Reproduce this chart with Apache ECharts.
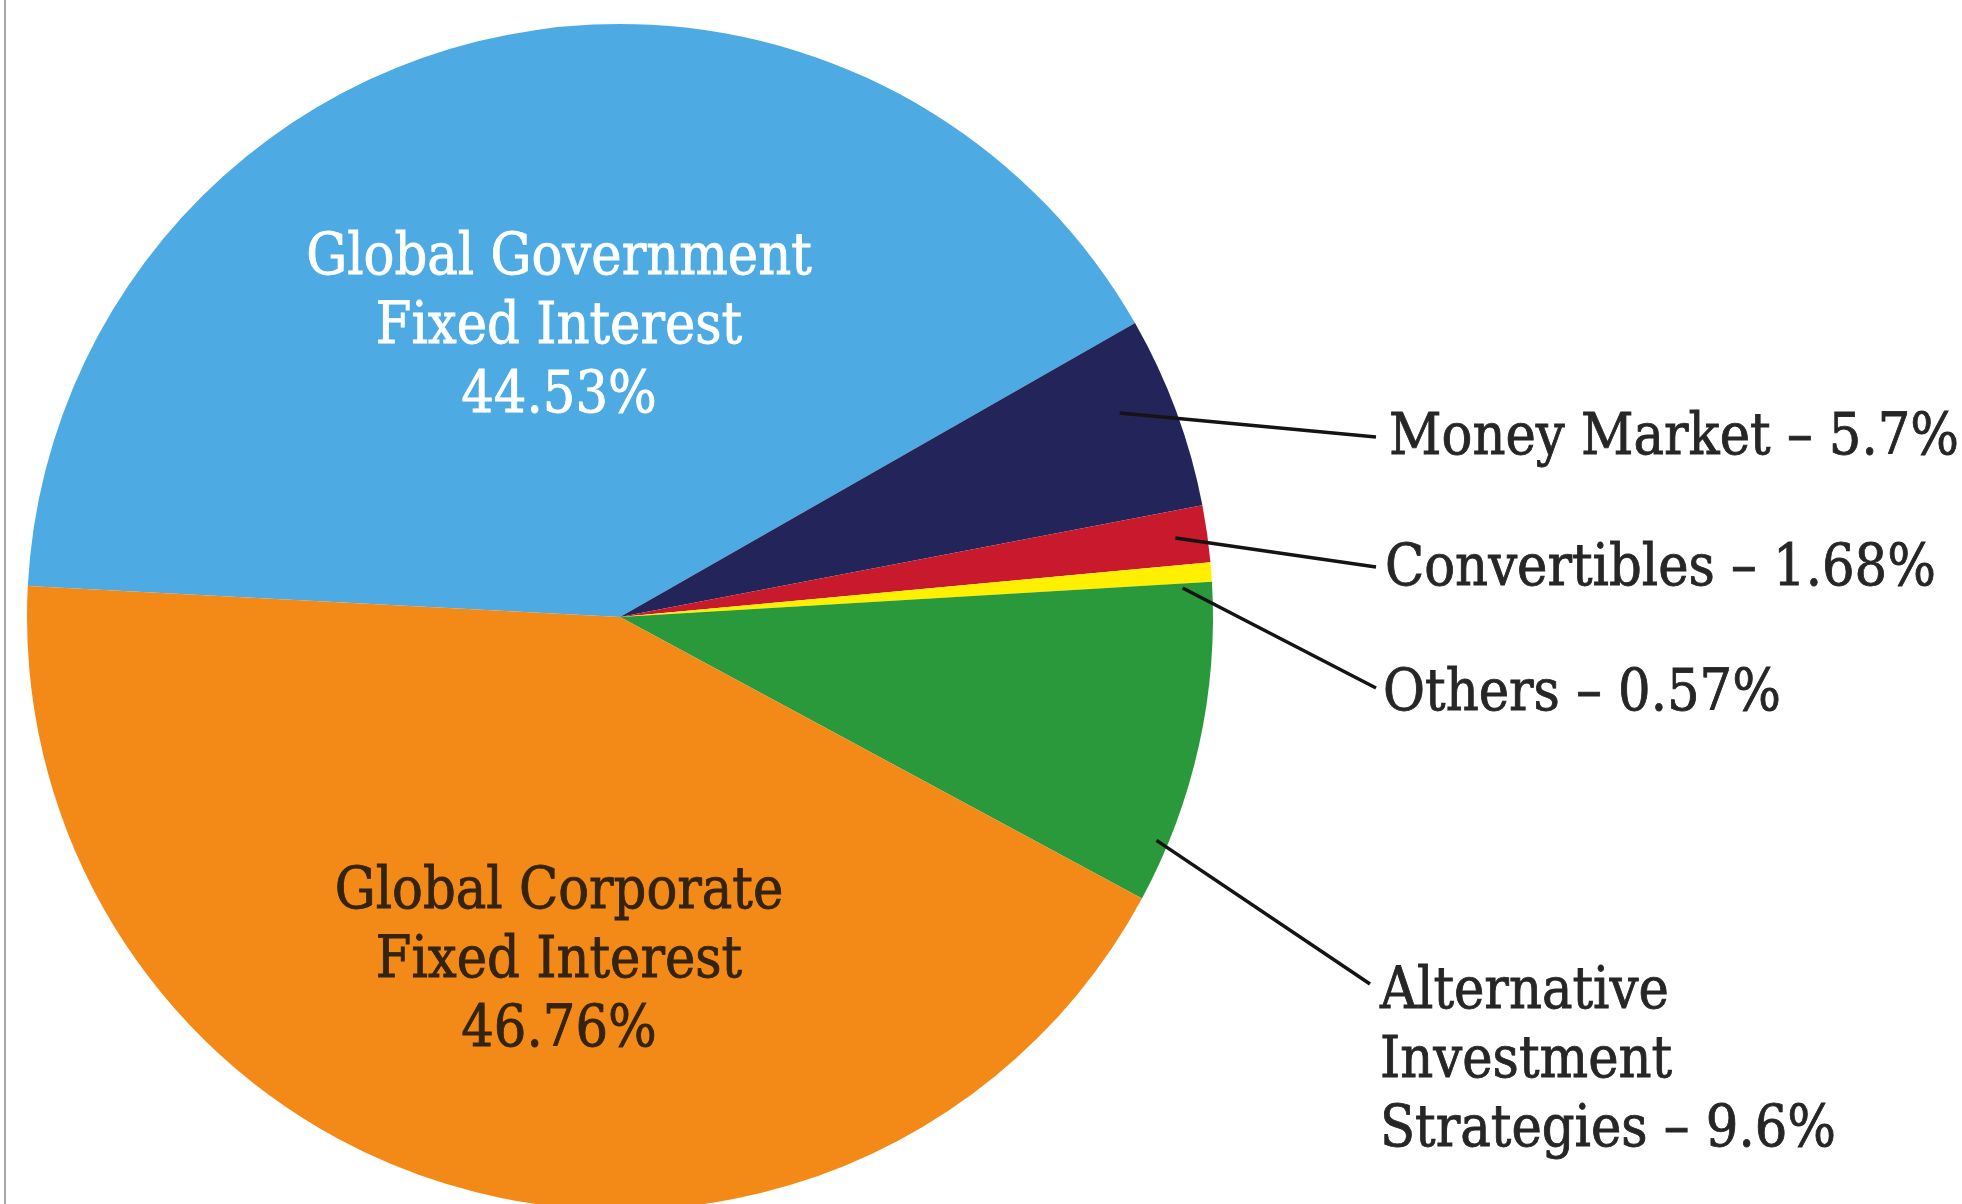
<!DOCTYPE html>
<html>
<head>
<meta charset="utf-8">
<title>Fund allocation</title>
<script src="https://cdn.jsdelivr.net/npm/echarts@6/dist/echarts.min.js"></script>
<style>
  html, body { margin: 0; padding: 0; background: #ffffff; }
  #chart { width: 1962px; height: 1204px; }
</style>
</head>
<body>
<div id="chart"></div>
<script>
// Asset classes, listed clockwise from the left edge of the pie
const categories = [
  'Global Government\nFixed Interest',
  'Money Market',
  'Convertibles',
  'Others',
  'Alternative\nInvestment\nStrategies',
  'Global Corporate\nFixed Interest'
];
const shares = [44.53, 5.7, 1.68, 0.57, 9.6, 46.76];
const sliceColors = ['#4eaae3', '#232459', '#c8192d', '#fff000', '#2a993c', '#f38916'];

// Pie geometry (px)
const CX = 620, CY = 617, R = 593;
const START_ANGLE = 177;
const FONT = '"DejaVu Serif Condensed", "DejaVu Serif", serif';

// Where each label sits: inside labels give their centre; outside labels give
// the left edge of the text plus the point on the slice where the leader starts
// (angle in degrees, counter-clockwise from 3 o'clock, and fraction of radius).
const labelPlacement = [
  { inside: true, x: 559, y: 328 },
  { x: 1389, y: 439, lineEnd: [1376, 437], angle: 22.2, frac: 0.91 },
  { x: 1385, y: 570, lineEnd: [1376, 567], angle: 8.1, frac: 0.946 },
  { x: 1383, y: 695, lineEnd: [1376, 688], angle: 2.95, frac: 0.95 },
  { x: 1380, y: 1062, lineEnd: [1370, 984], angle: -22.6, frac: 0.98 },
  { inside: true, x: 559, y: 962 }
];

function fmt(v) { return v + '%'; }

// Coloured slices, no text
const sliceData = categories.map((name, i) => ({
  name: name,
  value: shares[i],
  itemStyle: { color: sliceColors[i] }
}));

// Same slices again, see-through, carrying the labels and leader lines so
// the leaders can be drawn on top of the coloured wedges
const labelData = categories.map((name, i) => {
  const p = labelPlacement[i];
  const item = {
    name: name,
    value: shares[i],
    itemStyle: { color: 'rgba(0,0,0,0)' }
  };
  if (p.inside) {
    const c = i === 0 ? '#ffffff' : '#33230f';
    item.label = {
      position: 'inside',
      formatter: (prm) => prm.name + '\n' + fmt(prm.value),
      color: c,
      textBorderColor: c,
      textBorderWidth: 0.8,
      align: 'center',
      lineHeight: 69
    };
    item.labelLine = { show: false };
  } else {
    item.label = {
      position: 'outside',
      formatter: (prm) => prm.name + ' \u2013 ' + fmt(prm.value),
      color: '#262626',
      textBorderColor: '#262626',
      textBorderWidth: 0.8,
      align: 'left',
      lineHeight: 69
    };
    item.labelLine = { show: true };
  }
  return item;
});

const chart = echarts.init(document.getElementById('chart'), null, { renderer: 'canvas' });

chart.setOption({
  backgroundColor: '#ffffff',
  animation: false,
  graphic: [
    {
      type: 'line',
      shape: { x1: 5, y1: 0, x2: 5, y2: 1204 },
      style: { stroke: '#a8a8a8', lineWidth: 2 },
      silent: true
    }
  ],
  series: [
    {
      type: 'pie',
      z: 2,
      center: [CX, CY],
      radius: R,
      startAngle: START_ANGLE,
      clockwise: true,
      itemStyle: { borderWidth: 0 },
      emphasis: { disabled: true },
      label: { show: false },
      labelLine: { show: false },
      data: sliceData
    },
    {
      type: 'pie',
      z: 5,
      silent: true,
      center: [CX, CY],
      radius: R,
      startAngle: START_ANGLE,
      clockwise: true,
      avoidLabelOverlap: false,
      itemStyle: { borderWidth: 0 },
      emphasis: { disabled: true },
      label: {
        fontFamily: FONT,
        fontSize: 57
      },
      labelLine: {
        showAbove: true,
        lineStyle: { color: '#141414', width: 3.5 }
      },
      labelLayout: function (params) {
        const p = labelPlacement[params.dataIndex];
        if (p.inside) {
          return { x: p.x, y: p.y, align: 'center', verticalAlign: 'middle' };
        }
        const a = p.angle * Math.PI / 180;
        const start = [CX + R * p.frac * Math.cos(a), CY - R * p.frac * Math.sin(a)];
        return {
          x: p.x,
          y: p.y,
          align: 'left',
          verticalAlign: 'middle',
          labelLinePoints: [start, p.lineEnd, p.lineEnd]
        };
      },
      data: labelData
    }
  ]
});
</script>
</body>
</html>
